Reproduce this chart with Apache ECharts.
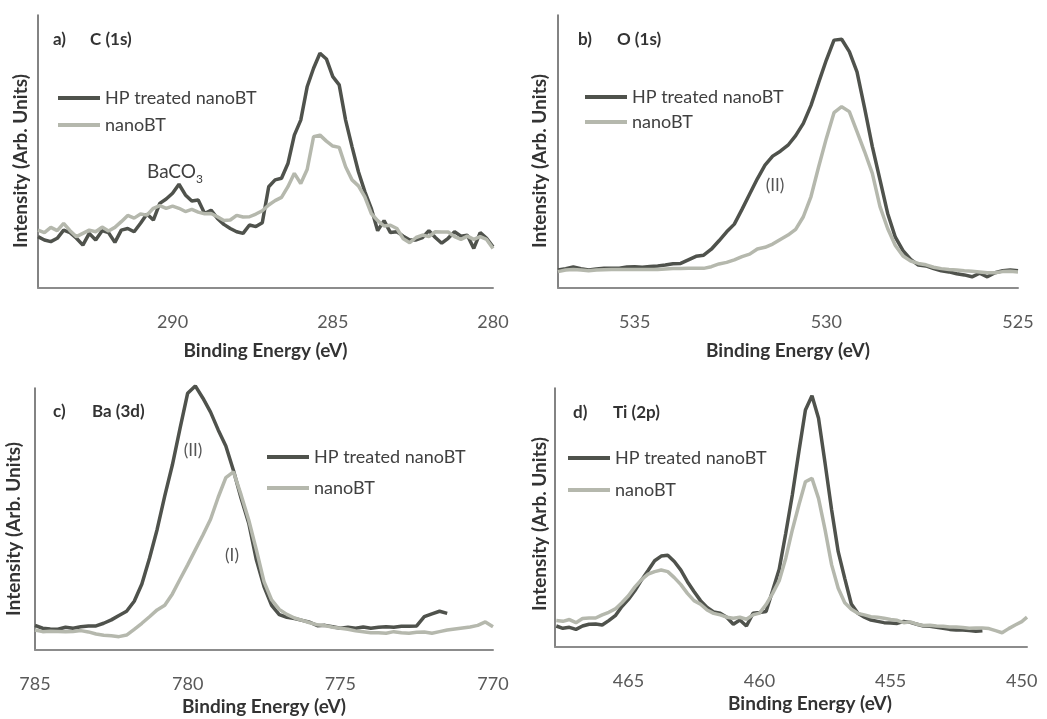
<!DOCTYPE html>
<html>
<head>
<meta charset="utf-8">
<script src="https://cdn.jsdelivr.net/npm/echarts@6/dist/echarts.min.js"></script>
<style>
  html, body { margin: 0; padding: 0; background: #ffffff; }
  #chart { width: 1047px; height: 719px; }
</style>
</head>
<body>
<div id="chart"></div>
<script>
// XPS spectra, intensity in arbitrary units (0-100 per panel)

// a) C (1s)
const cEnergy = [294.2,294.0,293.8,293.6,293.4,293.2,293.0,292.8,292.6,292.4,292.2,292.0,291.8,291.6,291.4,291.2,291.0,290.8,290.6,290.4,290.2,290.0,289.8,289.6,289.4,289.2,289.0,288.8,288.6,288.4,288.2,288.0,287.8,287.6,287.4,287.2,287.0,286.8,286.6,286.4,286.2,286.0,285.8,285.6,285.4,285.2,285.0,284.8,284.6,284.4,284.2,284.0,283.8,283.6,283.4,283.2,283.0,282.8,282.6,282.4,282.2,282.0,281.8,281.6,281.4,281.2,281.0,280.8,280.6,280.4,280.2,280.0];
const cHP = [18.8,17.6,17.0,18.2,21.2,20.3,18.2,15.7,20.0,17.6,
  21.0,20.3,16.7,21.2,21.8,20.6,23.7,27.1,24.9,31.0,
  32.6,34.7,38.0,34.1,31.9,32.2,27.3,28.5,25.5,23.3,
  21.8,20.6,20.0,23.1,22.5,23.9,37.1,39.6,40.2,45.6,
  56.0,61.5,73.7,80.5,86.0,83.9,77.4,74.4,61.5,51.8,
  42.6,35.3,29.2,21.0,24.7,20.3,20.6,19.0,17.6,17.6,
  18.5,21.0,18.5,16.4,18.2,20.6,19.0,19.3,14.5,20.3,
  18.2,15.1];
const cBT = [21.2,20.3,22.2,21.0,23.7,21.0,18.8,20.0,21.2,20.6,
  22.3,20.9,22.2,24.3,26.6,25.6,27.1,26.7,29.2,30.2,
  29.2,30.0,29.2,28.0,28.8,27.8,27.2,27.3,26.1,24.7,
  24.9,26.6,26.0,26.1,27.1,28.3,30.4,32.0,33.2,37.1,
  42.0,38.3,43.4,55.4,56.0,53.8,52.0,51.5,44.4,39.6,
  37.4,33.4,27.3,24.7,22.7,23.0,21.8,18.0,16.6,18.5,
  19.4,18.8,20.6,20.5,20.5,18.8,17.8,19.0,17.8,18.8,
  17.8,14.5];
const cTicks = [290, 285, 280];

// b) O (1s)
const oEnergy = [537.0,536.8,536.6,536.4,536.2,536.0,535.8,535.6,535.4,535.2,535.0,534.8,534.6,534.4,534.2,534.0,533.8,533.6,533.4,533.2,533.0,532.8,532.6,532.4,532.2,532.0,531.8,531.6,531.4,531.2,531.0,530.8,530.6,530.4,530.2,530.0,529.8,529.6,529.4,529.2,529.0,528.8,528.6,528.4,528.2,528.0,527.8,527.6,527.4,527.2,527.0,526.8,526.6,526.4,526.2,526.0,525.8,525.6,525.4,525.2,525.0];
const oHP = [6.6,7.1,7.7,7.1,6.6,7.0,7.2,7.2,7.2,7.7,
  7.8,7.6,7.9,8.1,8.4,8.9,9.0,10.3,11.6,12.0,
  14.2,17.3,20.6,23.4,28.8,34.4,40.0,45.0,48.3,50.1,
  52.3,55.8,60.3,66.9,75.3,83.5,90.8,91.1,86.6,79.2,
  65.8,51.8,39.6,27.3,18.6,13.7,10.5,8.4,8.1,7.1,
  6.3,5.9,5.2,4.8,4.1,5.4,4.1,5.6,6.3,6.6,
  6.3];
const oBT = [6.0,6.6,6.8,6.6,6.3,6.6,6.7,6.8,6.8,6.8,
  6.8,6.8,6.8,6.8,7.0,7.1,7.1,7.2,7.2,7.2,
  7.8,8.8,9.4,10.3,11.5,12.4,14.3,14.9,16.1,17.8,
  19.4,21.5,26.1,33.5,44.4,54.8,64.2,66.4,64.6,57.3,
  49.9,42.0,29.8,21.8,15.6,11.7,9.9,9.0,8.5,7.6,
  7.1,6.8,6.6,6.3,6.1,5.9,5.6,5.6,6.0,6.1,
  5.9];
const oTicks = [535, 530, 525];

// c) Ba (3d)
const baEnergy = [785.00,784.75,784.50,784.25,784.00,783.75,783.50,783.25,783.00,782.75,782.50,782.25,782.00,781.75,781.50,781.25,781.00,780.75,780.50,780.25,780.00,779.75,779.50,779.25,779.00,778.75,778.50,778.25,778.00,777.75,777.50,777.25,777.00,776.75,776.50,776.25,776.00,775.75,775.50,775.25,775.00,774.75,774.50,774.25,774.00,773.75,773.50,773.25,773.00,772.75,772.50,772.25,772.00,771.75,771.50,771.25,771.00,770.75,770.50,770.25,770.00];
const baHP = [9.4,8.3,8.0,7.9,8.7,8.3,8.9,9.2,9.2,10.2,
  11.5,13.2,14.8,18.6,25.2,35.0,46.0,58.8,70.7,84.6,
  98.0,100.8,96.1,90.8,84.0,77.9,68.5,57.9,48.4,34.4,
  24.2,17.0,13.5,12.5,12.0,11.3,10.6,9.3,9.4,8.9,
  8.3,8.7,8.3,8.8,8.3,8.7,8.9,8.7,9.1,9.1,
  9.2,12.7,13.8,14.8,14.0];
const baBT = [7.6,7.0,7.2,7.1,7.0,7.1,7.4,6.9,6.1,5.6,
  5.4,5.1,5.7,7.9,10.2,12.7,15.3,17.1,21.4,27.0,
  32.5,38.2,43.9,49.9,58.3,65.8,68.0,59.2,49.6,38.2,
  26.1,19.1,15.5,13.6,12.2,11.3,10.4,9.6,9.3,8.7,
  8.3,7.9,7.3,7.0,6.6,6.6,6.4,7.0,6.6,6.4,
  6.8,6.9,6.4,7.0,7.6,8.0,8.4,8.8,9.4,10.7,
  8.9];
const baTicks = [785, 780, 775, 770];

// d) Ti (2p)
const tiEnergy = [467.75,467.50,467.25,467.00,466.75,466.50,466.25,466.00,465.75,465.50,465.25,465.00,464.75,464.50,464.25,464.00,463.75,463.50,463.25,463.00,462.75,462.50,462.25,462.00,461.75,461.50,461.25,461.00,460.75,460.50,460.25,460.00,459.75,459.50,459.25,459.00,458.75,458.50,458.25,458.00,457.75,457.50,457.25,457.00,456.75,456.50,456.25,456.00,455.75,455.50,455.25,455.00,454.75,454.50,454.25,454.00,453.75,453.50,453.25,453.00,452.75,452.50,452.25,452.00,451.75,451.50,451.25,451.00,450.75,450.50,450.25,450.00,449.80];
const tiHP = [8.1,7.2,7.6,6.8,8.1,8.8,8.9,8.5,10.2,12.1,
  15.6,18.4,21.8,25.9,29.5,33.3,35.1,35.4,33.0,29.7,
  25.2,21.4,17.9,15.3,13.5,13.0,11.5,8.8,10.4,8.1,
  13.0,13.3,13.7,21.8,30.0,43.9,58.7,75.4,91.5,97.0,
  88.3,70.9,52.9,36.8,26.5,16.6,13.0,11.5,10.4,9.9,
  9.4,9.3,9.1,9.9,9.5,8.8,8.1,8.0,7.6,7.2,
  6.8,6.6,6.6,6.4,6.1,6.3];
const tiBT = [10.2,9.9,10.6,9.4,11.0,11.2,11.2,12.4,13.4,14.7,
  17.1,19.8,23.2,26.0,28.1,29.1,29.7,29.1,26.8,24.1,
  20.7,17.9,16.5,14.3,13.0,12.4,11.5,11.1,11.5,10.7,
  12.4,13.1,16.4,20.7,25.6,34.3,45.2,54.8,63.8,65.1,
  57.4,45.2,31.7,22.7,17.1,14.6,13.0,12.4,11.7,11.5,
  11.1,10.6,10.3,9.4,9.7,8.8,8.3,8.4,8.1,8.0,
  7.7,7.7,7.5,7.2,7.3,7.3,7.1,6.3,5.5,7.1,
  8.5,9.8,11.5];
const tiTicks = [465, 460, 455, 450];

const seriesNames = ['HP treated nanoBT', 'nanoBT'];
const axisTitleX = 'Binding Energy (eV)';
const axisTitleY = 'Intensity (Arb. Units)';

// ---- styling / layout ----
const FONT = 'Lato, "Open Sans", sans-serif';
const DARK = '#4f524c';
const LIGHT = '#b5b8ad';

const panels = [
  { energy: cEnergy, hp: cHP, bt: cBT, ticks: cTicks, min: 280, max: 294.2,
    grid: { left: 38, top: 15, width: 455, height: 273 }, nameGap: 53, namePad: 0,
    legend: { left: 58, top: 84.5, row: 27 } },
  { energy: oEnergy, hp: oHP, bt: oBT, ticks: oTicks, min: 525, max: 537,
    grid: { left: 558, top: 15, width: 460, height: 273 }, nameGap: 53, namePad: 0,
    legend: { left: 585, top: 84.5, row: 25 } },
  { energy: baEnergy, hp: baHP, bt: baBT, ticks: baTicks, min: 770, max: 785,
    grid: { left: 35, top: 388, width: 458, height: 262 }, nameGap: 47, namePad: 0,
    legend: { left: 267, top: 441.5, row: 31 } },
  { energy: tiEnergy, hp: tiHP, bt: tiBT, ticks: tiTicks, min: 449.8, max: 467.8,
    grid: { left: 555, top: 388, width: 472, height: 259 }, nameGap: 47, namePad: [0, 0, 0, 38],
    legend: { left: 568, top: 442, row: 32 } }
];

const pairs = (xs, ys) => ys.map((y, i) => [xs[i], y]);

const grid = [], xAxis = [], yAxis = [], series = [], legend = [];
panels.forEach((p, i) => {
  grid.push(Object.assign({ containLabel: false }, p.grid));
  xAxis.push({
    type: 'value', gridIndex: i, inverse: true, min: p.min, max: p.max,
    name: axisTitleX, nameLocation: 'middle', nameGap: p.nameGap,
    nameTextStyle: { fontFamily: FONT, fontWeight: 'bold', fontSize: 19, color: '#333333', padding: p.namePad },
    axisLine: { show: true, onZero: false, lineStyle: { color: '#8c8c8c', width: 2 } },
    axisTick: { show: false },
    splitLine: { show: false },
    axisLabel: { customValues: p.ticks, fontFamily: FONT, fontSize: 18, color: '#595959', margin: 25 }
  });
  yAxis.push({
    type: 'value', gridIndex: i, min: 0, max: 100,
    axisLine: { show: true, lineStyle: { color: '#5a5a5a', width: 1.5 } },
    axisTick: { show: false }, axisLabel: { show: false }, splitLine: { show: false }
  });
  series.push({
    name: seriesNames[0], type: 'line', xAxisIndex: i, yAxisIndex: i,
    data: pairs(p.energy, p.hp), showSymbol: false, symbol: 'none', clip: false,
    lineStyle: { color: DARK, width: 3.5 }, itemStyle: { color: DARK }, z: 2
  });
  series.push({
    name: seriesNames[1], type: 'line', xAxisIndex: i, yAxisIndex: i,
    data: pairs(p.energy, p.bt), showSymbol: false, symbol: 'none', clip: false,
    lineStyle: { color: LIGHT, width: 3.5 }, itemStyle: { color: LIGHT }, z: 3
  });
  legend.push({
    data: seriesNames, orient: 'vertical', left: p.legend.left, top: p.legend.top,
    icon: 'rect', itemGap: 0, itemWidth: 42, itemHeight: 4, padding: 0,
    selectedMode: false,
    textStyle: { fontFamily: FONT, fontSize: 18, color: '#404040', lineHeight: p.legend.row }
  });
});

// panel labels, rotated y titles and peak annotations
const txt = (x, y, text, font, extra) => ({
  type: 'text', x: x, y: y, z: 10,
  style: Object.assign({ text: text, font: font, fill: '#333333', verticalAlign: 'middle' }, extra || {})
});
const boldTitle = 'bold 17px ' + FONT;
const note = '17px ' + FONT;
const graphic = [
  txt(53, 40, 'a)', boldTitle), txt(90, 40, 'C (1s)', boldTitle),
  txt(578, 40, 'b)', boldTitle), txt(617, 40, 'O (1s)', boldTitle),
  txt(53, 412, 'c)', boldTitle), txt(92, 412, 'Ba (3d)', boldTitle),
  txt(573, 413, 'd)', boldTitle), txt(613, 413, 'Ti (2p)', boldTitle),
  txt(147, 172, 'BaCO', '19px ' + FONT, { fill: '#404040' }),
  txt(196, 179, '3', '12px ' + FONT, { fill: '#404040' }),
  txt(775, 186, '(II)', note, { align: 'center', fill: '#555555' }),
  txt(193, 451, '(II)', note, { align: 'center', fill: '#555555' }),
  txt(232, 556, '(I)', note, { align: 'center', fill: '#555555' })
];
[[20.5, 161], [540, 161], [14, 529], [540, 524]].forEach(([x, y]) => {
  graphic.push({
    type: 'text', x: x, y: y, rotation: Math.PI / 2, z: 10,
    style: { text: axisTitleY, font: 'bold 19px ' + FONT, fill: '#333333', align: 'center', verticalAlign: 'middle' }
  });
});

const chart = echarts.init(document.getElementById('chart'), null, { renderer: 'canvas' });
chart.setOption({
  animation: false,
  backgroundColor: '#ffffff',
  grid: grid, xAxis: xAxis, yAxis: yAxis, series: series, legend: legend, graphic: graphic
});
</script>
</body>
</html>
